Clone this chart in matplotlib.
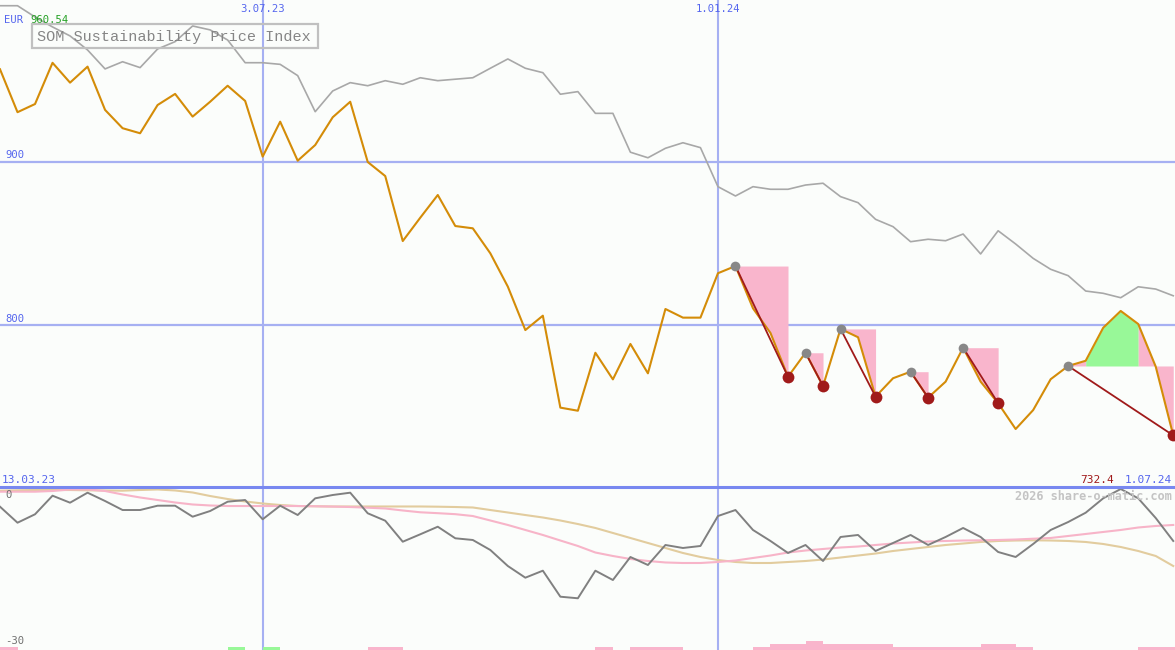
import numpy as np
import pandas as pd
import matplotlib
matplotlib.use("Agg")
import matplotlib.pyplot as plt
import matplotlib.dates as mdates
from matplotlib.patches import Rectangle
from matplotlib.lines import Line2D

# ---------------- data ----------------
start_date = "2023-03-20"
n_weeks = 68
dates = pd.date_range(start_date, periods=n_weeks, freq="7D")

price = [956.6, 930.3, 935.3, 960.54, 948.4, 958.2, 931.7, 920.5, 917.4, 934.7,
         941.5, 927.6, 936.7, 946.5, 937.2, 903.1, 924.5, 900.6, 910.2, 927.2,
         936.7, 899.8, 891.2, 851.4, 865.7, 879.6, 860.6, 859.2, 843.9, 823.5,
         796.9, 805.7, 749.4, 747.5, 783.0, 766.7, 788.4, 770.4, 809.8, 804.5,
         804.5, 831.7, 836.1, 810.2, 795.1, 768.3, 783.0, 762.6, 797.6, 792.5,
         756.1, 767.4, 771.4, 755.5, 765.3, 786.1, 765.3, 752.1, 736.3, 747.9,
         766.8, 774.9, 778.1, 798.3, 808.6, 800.6, 774.5, 732.4]

benchmark = [995.5, 995.5, 988.6, 982.5, 977.0, 968.4, 956.8, 961.2, 957.6, 969.0,
             973.5, 983.1, 980.7, 974.5, 960.6, 960.6, 959.6, 952.7, 930.6, 943.3,
             948.4, 946.5, 949.6, 947.4, 951.4, 949.6, 950.5, 951.4, 957.2, 962.9,
             957.2, 954.5, 941.3, 942.9, 929.6, 929.6, 905.8, 902.4, 908.2, 911.6,
             908.6, 884.7, 879.0, 884.7, 883.1, 883.1, 885.7, 886.8, 878.6, 874.9,
             864.7, 860.2, 851.0, 852.5, 851.6, 855.7, 843.5, 857.7, 849.6, 840.8,
             834.1, 830.2, 820.8, 819.4, 816.7, 823.4, 822.0, 817.9]

# swing highs (grey dots) and following lows (red dots), as week indices
swing_highs = [42, 46, 48, 52, 55, 61]
swing_lows = [45, 47, 50, 53, 57, 67]

# lower panel: relative strength and two moving averages
rel_strength = [-3.36, -6.40, -4.80, -1.27, -2.60, -0.70, -2.28, -3.99, -3.99, -3.17,
                -3.17, -5.26, -4.18, -2.41, -2.09, -5.75, -3.17, -4.94, -1.77, -1.14,
                -0.70, -4.61, -6.02, -10.01, -8.60, -7.16, -9.36, -9.68, -11.58, -14.62,
                -16.84, -15.51, -20.45, -20.75, -15.51, -17.28, -12.91, -14.43, -10.63, -11.20,
                -10.82, -5.13, -3.99, -7.78, -9.87, -12.15, -10.63, -13.67, -9.11, -8.73,
                -11.77, -10.25, -8.73, -10.63, -9.11, -7.40, -9.11, -11.96, -12.91, -10.44,
                -7.78, -6.27, -4.50, -1.77, 0.0, -1.77, -5.51, -9.87]

ma_pink = [-0.51, -0.51, -0.51, -0.38, -0.09, -0.09, -0.38, -1.04, -1.61, -2.09,
           -2.56, -2.94, -3.13, -3.23, -3.23, -3.23, -3.23, -3.23, -3.28, -3.34,
           -3.42, -3.55, -3.70, -4.08, -4.42, -4.59, -4.78, -5.13, -5.98, -6.83,
           -7.78, -8.73, -9.78, -10.82, -12.06, -12.72, -13.29, -13.67, -13.95, -14.05,
           -14.05, -13.86, -13.58, -13.10, -12.63, -12.06, -11.68, -11.39, -11.11, -10.92,
           -10.63, -10.35, -10.16, -9.97, -9.87, -9.78, -9.74, -9.68, -9.59, -9.44,
           -9.30, -8.92, -8.54, -8.16, -7.78, -7.31, -7.02, -6.83]

ma_tan = [-0.32, -0.25, -0.19, -0.19, -0.19, -0.25, -0.28, -0.32, -0.19, -0.09,
          -0.28, -0.66, -1.33, -1.90, -2.37, -2.75, -3.04, -3.23, -3.28, -3.32,
          -3.32, -3.32, -3.32, -3.32, -3.32, -3.36, -3.42, -3.51, -3.99, -4.46,
          -4.94, -5.41, -5.98, -6.65, -7.40, -8.35, -9.30, -10.25, -11.20, -12.15,
          -12.91, -13.48, -13.86, -14.05, -14.05, -13.86, -13.67, -13.39, -13.01, -12.63,
          -12.25, -11.77, -11.39, -11.01, -10.63, -10.35, -10.06, -9.87, -9.78, -9.74,
          -9.78, -9.87, -10.06, -10.44, -11.01, -11.77, -12.72, -14.62]

# signal bars at the bottom (level 1..3)
pink_bars = [1, 0, 0, 0, 0, 0, 0, 0, 0, 0, 0, 0, 0, 0, 0, 0, 0, 0, 0, 0,
             0, 1, 1, 0, 0, 0, 0, 0, 0, 0, 0, 0, 0, 0, 1, 0, 1, 1, 1, 0,
             0, 0, 0, 1, 2, 2, 3, 2, 2, 2, 2, 1, 1, 1, 1, 1, 2, 2, 1, 0,
             0, 0, 0, 0, 0, 1, 1, 1]
green_bars = [0] * 13 + [1, 0, 1] + [0] * 52

vline_dates = ["2023-07-03", "2024-01-01"]
vline_labels = ["3.07.23", "1.01.24"]
grid_levels = [900, 800]
title = "SOM Sustainability Price Index"
currency = "EUR"
max_label = "960.54"
last_label = "732.4"
range_start_label = "13.03.23"
range_end_label = "1.07.24"
watermark = "2026 share-o-matic.com"
lower_labels = ["0", "-30"]

# ---------------- style ----------------
W, H = 1175, 650
BG = "#fbfdfb"
BLUE_TXT = "#5566ee"
GRID = "#a6b0f2"
ORANGE = "#d48c08"
GREY = "#a8a8a8"
DGREY = "#808080"
PINK = "#f9b5cc"
GREEN = "#98f898"
DRED = "#a01a1a"
MA_PINK = "#f7b4c8"
MA_TAN = "#e2cc9e"
MONO = "DejaVu Sans Mono"

fig = plt.figure(figsize=(W / 100, H / 100), dpi=100, facecolor=BG)
split = 487
ax1 = fig.add_axes([0, 1 - split / H, 1, split / H])
ax2 = fig.add_axes([0, 0, 1, 1 - split / H])
for ax in (ax1, ax2):
    ax.set_facecolor(BG)
    for s in ax.spines.values():
        s.set_visible(False)
    ax.set_xticks([])
    ax.set_yticks([])

x = mdates.date2num(dates.to_pydatetime())
span_days = 469.7
xlim = (x[0], x[0] + span_days)
ax1.set_xlim(*xlim)
ax2.set_xlim(*xlim)
ax1.set_ylim(700.8, 999.0)
ax2.set_ylim(-30.57, 0.38)

price_a = np.array(price)
# gridlines
for lv in grid_levels:
    ax1.axhline(lv, color=GRID, lw=1.6, zorder=1)
vx = [mdates.date2num(pd.Timestamp(d).to_pydatetime()) for d in vline_dates]
for v in vx:
    for ax in (ax1, ax2):
        ax.axvline(v, color=GRID, lw=1.5, zorder=1)

# benchmark
ax1.plot(x, benchmark, color=GREY, lw=1.2, zorder=2)

# swing fills: area between price and swing-high level,
# green for runs of segments fully above the level, pink otherwise
for hi, lo in zip(swing_highs, swing_lows):
    lvl = price_a[hi]
    cols = [GREEN if price_a[j:j + 2].min() > lvl else PINK for j in range(hi, lo)]
    a = hi
    for j in range(hi, lo):
        if j == lo - 1 or cols[j - hi + 1] != cols[j - hi]:
            b = j + 1
            ax1.fill_between(x[a:b + 1], price_a[a:b + 1], lvl, color=cols[j - hi],
                             lw=0, zorder=2)
            a = b

ax1.plot(x, price, color=ORANGE, lw=1.5, zorder=3)
for hi, lo in zip(swing_highs, swing_lows):
    ax1.plot([x[hi], x[lo]], [price[hi], price[lo]], color=DRED, lw=1.3, zorder=4)
ax1.plot(x[swing_highs], price_a[swing_highs], "o", color="#888888", ms=7, mew=0, zorder=5)
ax1.plot(x[swing_lows], price_a[swing_lows], "o", color=DRED, ms=8.5, mew=0, zorder=5)

# lower panel
ax2.plot(x, ma_tan, color=MA_TAN, lw=1.5, zorder=2)
ax2.plot(x, ma_pink, color=MA_PINK, lw=1.5, zorder=2)
ax2.plot(x, rel_strength, color=DGREY, lw=1.4, zorder=3)
bar_unit = 0.57
ybot = ax2.get_ylim()[0]
pb = np.array(pink_bars) * bar_unit
gb = np.array(green_bars) * bar_unit
ax2.bar(x, pb, width=7.0, bottom=ybot, align="edge", color=PINK, lw=0, zorder=4)
ax2.bar(x, gb, width=7.0, bottom=ybot, align="edge", color=GREEN, lw=0, zorder=4)

# boundary line between panels
fig.lines.append(Line2D([0, 1], [1 - split / H, 1 - split / H], transform=fig.transFigure,
                        color="#7888f0", lw=2.2, zorder=6))


def ptext(px, py, s, **kw):
    kw.setdefault("family", MONO)
    kw.setdefault("fontsize", 7.6)
    kw.setdefault("va", "center")
    fig.text(px / W, 1 - py / H, s, **kw)


# title box
fig.patches.append(Rectangle((32 / W, 1 - 48 / H), 286 / W, 24 / H, transform=fig.transFigure,
                             fill=False, edgecolor="#c0c0c0", lw=1.6, zorder=10))
ptext(37, 36.5, title, fontsize=10.9, color="#858585", family="Liberation Mono", zorder=11)
ptext(4, 20, currency, color=BLUE_TXT)
ptext(30, 20, max_label, color="#22a022")
for v, lab in zip(vx, vline_labels):
    xp = (v - xlim[0]) / span_days * W
    ptext(xp, 9, lab, color=BLUE_TXT, ha="center")
ptext(5, 155.5, str(grid_levels[0]), color=BLUE_TXT)
ptext(5, 319, str(grid_levels[1]), color=BLUE_TXT)
ptext(2, 480, range_start_label, color=BLUE_TXT, fontsize=8)
ptext(1114, 480, last_label, color=DRED, ha="right", fontsize=8)
ptext(1172, 480, range_end_label, color=BLUE_TXT, ha="right", fontsize=8)
ptext(1172, 496, watermark, color="#c4c4c4", ha="right", fontsize=8.6, fontweight="bold")
ptext(5, 495, lower_labels[0], color="#707070")
ptext(5, 641, lower_labels[1], color="#707070")

fig.savefig("out.png", dpi=100, facecolor=BG)
